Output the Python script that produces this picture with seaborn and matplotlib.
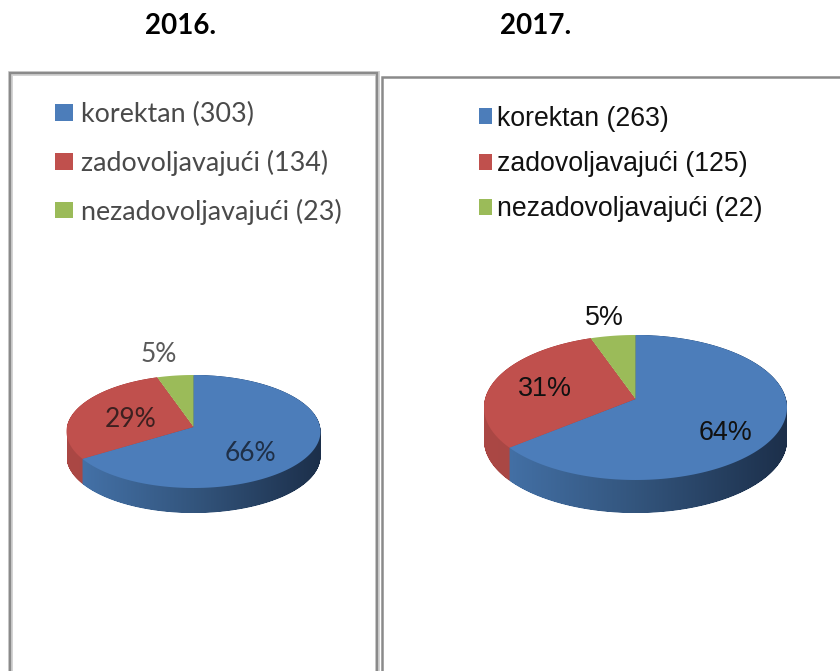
import numpy as np
import matplotlib
matplotlib.use("Agg")
import matplotlib.pyplot as plt
from matplotlib.path import Path
from matplotlib.patches import Polygon
import seaborn as sns

#DATA
years = ["2016.", "2017."]
categories = ["korektan", "zadovoljavajući", "nezadovoljavajući"]
counts_2016 = [303, 134, 23]
counts_2017 = [263, 125, 22]
pct_2016 = ["66%", "29%", "5%"]
pct_2017 = ["64%", "31%", "5%"]

W, H = 840, 671
sns.set_theme(style="white")
colors = sns.color_palette(["#4c7dba", "#c0504d", "#9bbb59"])
side_blue = ["#4675ad", "#33557d", "#1c2f4a"]
side_red = ["#ab4845", "#a04341", "#a04341"]

fig = plt.figure(figsize=(W / 100, H / 100), dpi=100, facecolor="white")

#BACKGROUND AXES IN PIXELS, FOR THE FRAMES
bg = fig.add_axes([0, 0, 1, 1])
bg.set_xlim(0, W)
bg.set_ylim(H, 0)
bg.axis("off")
bg.plot([10, 10, 377, 377], [H, 72.5, 72.5, H], color="#d4d4d4", lw=3.6, solid_joinstyle="miter")
bg.plot([10, 10, 377, 377], [H, 72.5, 72.5, H], color="#8a8a8a", lw=1.7, solid_joinstyle="miter")
bg.plot([381.5, 381.5, W], [H, 77, 77], color="#8a8a8a", lw=1.8, solid_joinstyle="miter")


def fx(x):
    return x / W


def fy(y):
    return 1 - y / H


def slice_outline(wedge):
    #SLICE FROM THE ANGLES THE PIE COMPUTED, WITH A FINE ARC
    t = np.radians(np.linspace(wedge.theta1, wedge.theta2, 200))
    arc = np.column_stack([np.cos(t), np.sin(t)]) * wedge.r
    return np.vstack([[0, 0], arc])


def warp(verts, c):
    #PERSPECTIVE: KEEPS THE RIM, MOVES THE PIE CENTRE UP BY c
    x, y = verts[:, 0], verts[:, 1]
    den = 1 + c * y
    return np.column_stack([x * np.sqrt(1 - c ** 2) / den, (y + c) / den])


def gradient_side(ax, polys, stops):
    cmap = matplotlib.colors.LinearSegmentedColormap.from_list("side", stops)
    grad = np.linspace(0, 1, 256).reshape(1, -1)
    im = ax.imshow(grad, cmap=cmap, extent=(-1, 1, -3, 1.2), aspect="auto", zorder=1)
    im.set_clip_path(Path.make_compound_path(*[Path(np.vstack([p, p[:1]]), closed=True) for p in polys]), ax.transData)


def draw_pie(values, cx, cy, rx, ry, depth, c):
    ax = fig.add_axes([fx(cx - 1.25 * rx), fy(cy + 1.25 * ry + depth), 2.5 * rx / W, (2.5 * ry + depth) / H])
    ax.patch.set_visible(False)
    d = depth / ry

    wedges, _ = ax.pie(values, startangle=90, counterclock=False)
    polys = [warp(slice_outline(w), c) for w in wedges]
    for w in wedges:
        w.remove()

    #SIDE OF THE DISC: STACKED COPIES OF THE SLICE USED AS A CLIP FOR A GRADIENT
    offsets = np.linspace(d, 0, int(depth) * 2 + 1)
    gradient_side(ax, [polys[1] - [0, off] for off in offsets], side_red)
    gradient_side(ax, [polys[0] - [0, off] for off in offsets], side_blue)

    top = [ax.add_patch(Polygon(p, closed=True, facecolor=col, linewidth=0, zorder=3))
           for p, col in zip(polys, colors)]
    ax.set_aspect("auto")
    ax.set_xlim(-1.25, 1.25)
    ax.set_ylim(-1.25 - d, 1.25)
    ax.axis("off")
    return ax, top


#2016 PIE (BLURRED SCREENSHOT, CALIBRI LOOK)
ax16, top16 = draw_pie(counts_2016, 193.5, 431.5, 127, 56.5, 25, 0.08)
ax16.legend(top16, [f"{c} ({v})" for c, v in zip(categories, counts_2016)],
            loc="upper left", bbox_to_anchor=(fx(55), fy(102)), bbox_transform=fig.transFigure,
            frameon=False, borderpad=0, borderaxespad=0, handlelength=0.65, handleheight=0.57,
            handletextpad=0.3, labelspacing=0.84,
            labelcolor="#4a4a4a", prop={"family": "Lato", "size": 19.4})

#2017 PIE
ax17, top17 = draw_pie(counts_2017, 635.5, 407.5, 151.5, 72.5, 33, 0.117)
ax17.legend(top17, [f"{c} ({v})" for c, v in zip(categories, counts_2017)],
            loc="upper left", bbox_to_anchor=(fx(479), fy(105.5)), bbox_transform=fig.transFigure,
            frameon=False, borderpad=0, borderaxespad=0, handlelength=0.5, handleheight=0.55,
            handletextpad=0.19, labelspacing=0.73,
            labelcolor="#111111", prop={"family": "Liberation Sans", "size": 19.2})

#TITLES AND PERCENT LABELS
for year, x in zip(years, [181, 536]):
    fig.text(fx(x), fy(26), year, ha="center", va="center", fontsize=20, fontweight="bold",
             family="Lato", color="black")

label_pos_2016 = [(250, 453.5), (131, 419.5), (159, 354.5)]
label_col_2016 = ["#1f3048", "#3c2020", "#5a5a5a"]
for t, (x, y), c in zip(pct_2016, label_pos_2016, label_col_2016):
    fig.text(fx(x), fy(y), t, ha="center", va="center", fontsize=19, family="Lato", color=c, zorder=5)

label_pos_2017 = [(725, 433), (545, 389), (604, 318)]
for t, (x, y) in zip(pct_2017, label_pos_2017):
    fig.text(fx(x), fy(y), t, ha="center", va="center", fontsize=19.4, family="Liberation Sans",
             color="#111111", zorder=5)

fig.savefig("out.png", dpi=100)
